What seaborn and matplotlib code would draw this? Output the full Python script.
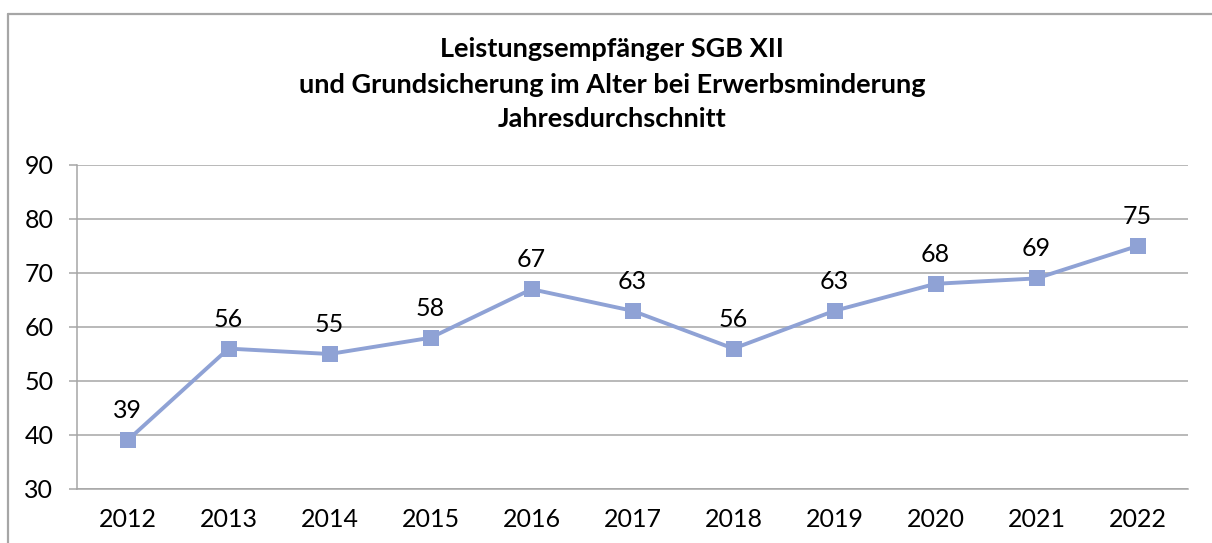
import matplotlib
matplotlib.use("Agg")
import matplotlib.pyplot as plt
from matplotlib.lines import Line2D
import seaborn as sns
import pandas as pd

years = ["2012", "2013", "2014", "2015", "2016", "2017", "2018", "2019", "2020", "2021", "2022"]
recipients = [39, 56, 55, 58, 67, 63, 56, 63, 68, 69, 75]
title_lines = [
    "Leistungsempfänger SGB XII",
    "und Grundsicherung im Alter bei Erwerbsminderung",
    "Jahresdurchschnitt",
]

sns.set_theme(style="white")
plt.rcParams["font.family"] = ["Lato", "DejaVu Sans"]

line_color = "#8FA2D5"
grid_color = "#A6A6A6"

df = pd.DataFrame({"Jahr": years, "Wert": recipients})

fig = plt.figure(figsize=(12.12, 5.43), dpi=100)
W, H = 1212, 543
ax = fig.add_axes([77 / W, (H - 489) / H, (1188 - 77) / W, (489 - 165) / H])

sns.lineplot(data=df, x="Jahr", y="Wert", ax=ax, color=line_color, linewidth=2.8,
             marker="s", markersize=11.5, markeredgewidth=0, sort=False)

ax.set_xlim(-0.5, len(years) - 0.5)
ax.set_ylim(30, 90)
ax.set_yticks(range(30, 91, 10))
ax.set_xticks(range(len(years)))
ax.set_xticklabels(years)
ax.set_xticks([i - 0.5 for i in range(len(years) + 1)], minor=True)
ax.set_xlabel("")
ax.set_ylabel("")

ax.yaxis.grid(True, color=grid_color, linewidth=1.1)
ax.xaxis.grid(False)
ax.set_axisbelow(True)
for side in ["top", "right"]:
    ax.spines[side].set_visible(False)
for side in ["left", "bottom"]:
    ax.spines[side].set_color(grid_color)
    ax.spines[side].set_linewidth(1.1)

ax.tick_params(axis="x", which="major", length=0, pad=14, labelsize=18, labelcolor="black")
ax.tick_params(axis="x", which="minor", length=6.5, width=1.1, color=grid_color, direction="out")
ax.tick_params(axis="y", which="major", length=6, width=1.1, color=grid_color, pad=11,
               labelsize=18, labelcolor="black", left=True)

for i, v in enumerate(recipients):
    ax.annotate(str(v), (i, v), xytext=(0, 13), textcoords="offset points",
                ha="center", va="bottom", fontsize=18, color="black")

ys = [49, 85, 119]
for line, y in zip(title_lines, ys):
    fig.text(612 / W, 1 - y / H, line, ha="center", va="center",
             fontsize=19.5, fontweight="bold", color="black")

# chart frame: top and left edges
fig.add_artist(Line2D([8 / W, 1], [1 - 14 / H, 1 - 14 / H], transform=fig.transFigure,
                      color="#A6A6A6", linewidth=1.6))
fig.add_artist(Line2D([8 / W, 8 / W], [0, 1 - 14 / H], transform=fig.transFigure,
                      color="#A6A6A6", linewidth=1.6))

fig.savefig("out.png", dpi=100)
